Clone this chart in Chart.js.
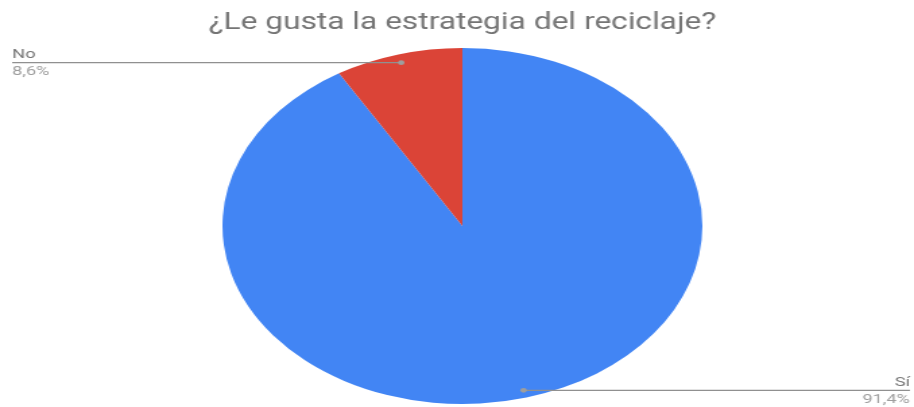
<!DOCTYPE html>
<html>
<head>
<meta charset="utf-8">
<script src="https://cdn.jsdelivr.net/npm/chart.js@4/dist/chart.umd.min.js"></script>
<style>
html,body{margin:0;padding:0;background:#fff;overflow:hidden;width:914px;height:407px;}
#wrap{position:absolute;left:0;top:0;width:678px;height:407px;transform:scaleX(1.3481);transform-origin:0 0;}
canvas{display:block;}
</style>
</head>
<body>
<div id="wrap"><canvas id="c" width="678" height="407"></canvas></div>
<script>
const categories = ["Sí", "No"];
const values = [91.4, 8.6];
const colors = ["#4285F4", "#DB4437"];
const chartTitle = "¿Le gusta la estrategia del reciclaje?";

const leaderPlugin = {
  id: 'leader',
  afterDraw(chart) {
    const ctx = chart.ctx;
    const meta = chart.getDatasetMeta(0);
    const data = chart.data.datasets[0].data;
    const total = data.reduce((a, b) => a + b, 0);
    const W = chart.width;
    ctx.save();
    meta.data.forEach((arc, i) => {
      const p = arc.getProps(['x', 'y', 'startAngle', 'endAngle', 'outerRadius'], true);
      const mid = (p.startAngle + p.endAngle) / 2;
      const r = p.outerRadius * 0.955;
      const dx = p.x + Math.cos(mid) * r;
      const dy = p.y + Math.sin(mid) * r;
      const left = Math.cos(mid) < 0;
      const ex = left ? 9 : W - 3;
      ctx.strokeStyle = '#909090';
      ctx.lineWidth = 1.3;
      ctx.beginPath();
      ctx.moveTo(dx, dy + 0.5);
      ctx.lineTo(ex, dy + 0.5);
      ctx.stroke();
      ctx.fillStyle = '#9e9e9e';
      ctx.beginPath();
      ctx.arc(dx, dy + 0.5, 2.4, 0, Math.PI * 2);
      ctx.fill();
      ctx.font = '13.5px Roboto';
      ctx.textAlign = left ? 'left' : 'right';
      ctx.textBaseline = 'alphabetic';
      ctx.fillStyle = '#757575';
      ctx.fillText(chart.data.labels[i], ex, dy - 4);
      const pct = (data[i] / total * 100).toFixed(1).replace('.', ',') + '%';
      ctx.fillStyle = '#9e9e9e';
      ctx.fillText(pct, ex, dy + 13);
    });
    ctx.restore();
  }
};

new Chart(document.getElementById('c'), {
  type: 'pie',
  data: {
    labels: categories,
    datasets: [{
      data: values,
      backgroundColor: colors,
      borderWidth: 0
    }]
  },
  options: {
    responsive: false,
    animation: false,
    devicePixelRatio: 1,
    layout: { padding: { left: 8, right: 0, top: 0, bottom: 3 } },
    plugins: {
      legend: { display: false },
      tooltip: { enabled: false },
      title: {
        display: true,
        text: chartTitle,
        color: '#757575',
        font: { family: 'Roboto', size: 23.5, weight: 'normal', lineHeight: 1.2 },
        padding: { top: 9.4, bottom: 10.4 }
      }
    }
  },
  plugins: [leaderPlugin]
});
</script>
</body>
</html>
